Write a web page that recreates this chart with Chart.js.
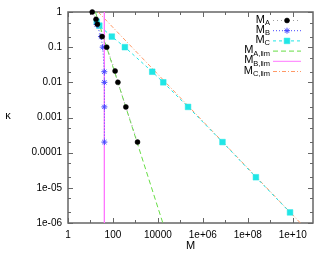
<!DOCTYPE html>
<html>
<head>
<meta charset="utf-8">
<script src="https://cdn.jsdelivr.net/npm/chart.js@4.4.1/dist/chart.umd.min.js"></script>
<style>
  body { margin: 0; background: #fff; }
  #wrap { width: 332px; height: 256px; position: relative; }
</style>
</head>
<body>
<div id="wrap"><canvas id="kappa"></canvas></div>
<script>
// values
const mA = [12, 17.7, 20.3, 33, 53, 125, 166, 376, 1240];
const kA = [1, 0.62, 0.45, 0.2, 0.1, 0.021, 0.01, 0.002, 0.0002];
const mB = [19, 29.4, 35, 41.3, 41.5, 41.6, 41.6];
const kB = [0.44, 0.2, 0.1, 0.02, 0.01, 0.002, 0.0002];
const mC = [19, 24.7, 89, 340, 5600, 17400, 220000, 7.5e6, 2.3e8, 7.6e9];
const kC = [0.53, 0.41, 0.2, 0.1, 0.02, 0.01, 0.002, 0.0002, 2e-5, 2e-6];
const mALim = [16.6, 16600];
const kALim = [1, 1e-6];
const mBLim = [41.6, 41.6];
const kBLim = [1, 1e-6];
const mCLim = [22, 2.2e10];
const kCLim = [1, 1e-6];

const xTicks = [1, 100, 1e4, 1e6, 1e8, 1e10];
const xLabels = ['1', '100', '10000', '1e+06', '1e+08', '1e+10'];
const yTicks = [1, 0.1, 0.01, 0.001, 0.0001, 1e-5, 1e-6];
const yLabels = ['1', '0.1', '0.01', '0.001', '0.0001', '1e-05', '1e-06'];
const legendSubs = ['A', 'B', 'C', 'A,lim', 'B,lim', 'C,lim'];

const FONT = '"Liberation Sans", Arial, sans-serif';
const pts = (xs, ys) => xs.map((x, i) => ({ x: x, y: ys[i] }));

const frame = {
  id: 'frame',
  beforeDatasetsDraw(chart) {
    const { ctx, chartArea: a, scales: { x, y } } = chart;
    ctx.save();
    ctx.strokeStyle = '#666';
    ctx.lineWidth = 1;
    ctx.beginPath();
    // y ticks at 1, 2, 5 of each decade, left and right
    for (let e = -6; e <= 0; e++) {
      [1, 2, 5].forEach((m) => {
        const v = m * Math.pow(10, e);
        if (v > 1) return;
        const py = Math.round(y.getPixelForValue(v)) + 0.5;
        const len = m === 1 ? 5 : 3;
        ctx.moveTo(a.left, py); ctx.lineTo(a.left + len, py);
        ctx.moveTo(a.right, py); ctx.lineTo(a.right - len, py);
      });
    }
    // x ticks at every decade, bottom and top
    for (let e = 0; e <= 10; e++) {
      const px = Math.round(x.getPixelForValue(Math.pow(10, e))) + 0.5;
      const len = e % 2 === 0 ? 5 : 3;
      ctx.moveTo(px, a.bottom); ctx.lineTo(px, a.bottom - len);
      ctx.moveTo(px, a.top); ctx.lineTo(px, a.top + len);
    }
    ctx.stroke();
    ctx.lineWidth = 1.5;
    ctx.strokeRect(a.left, a.top, a.right - a.left, a.bottom - a.top);

    ctx.fillStyle = '#000';
    ctx.font = '11px ' + FONT;
    ctx.textAlign = 'center';
    ctx.textBaseline = 'middle';
    ctx.fillText('κ', 8, 116);
    ctx.textBaseline = 'alphabetic';
    ctx.fillText('M', (a.left + a.right) / 2, 249);
    ctx.restore();
  }
};

const key = {
  id: 'key',
  afterDatasetsDraw(chart) {
    const ctx = chart.ctx;
    ctx.save();
    chart.data.datasets.forEach((ds, i) => {
      const y = 20 + i * 10.2;
      const right = 270;
      ctx.fillStyle = '#000';
      ctx.font = '7.5px ' + FONT;
      ctx.textAlign = 'right';
      ctx.textBaseline = 'alphabetic';
      ctx.fillText(legendSubs[i], right, y + 5);
      const sw = ctx.measureText(legendSubs[i]).width;
      ctx.font = '11px ' + FONT;
      ctx.fillText('M', right - sw, y + 2.5);

      ctx.strokeStyle = ds.borderColor;
      ctx.lineWidth = ds.borderWidth;
      ctx.setLineDash(ds.borderDash || []);
      ctx.beginPath();
      ctx.moveTo(273, y + 0.5);
      ctx.lineTo(301, y + 0.5);
      ctx.stroke();
      ctx.setLineDash([]);
      if (ds.pointRadius > 0) {
        ctx.fillStyle = ds.pointBackgroundColor;
        ctx.strokeStyle = ds.pointBorderColor;
        ctx.lineWidth = ds.pointBorderWidth;
        Chart.helpers.drawPoint(ctx, {
          pointStyle: ds.pointStyle, radius: ds.pointRadius,
          borderWidth: ds.pointBorderWidth, rotation: 0
        }, 287, y + 0.5);
      }
    });
    ctx.restore();
  }
};

const series = (data, color, dash, style, radius, fill, bw) => ({
  data: data,
  showLine: true,
  borderColor: color,
  borderWidth: 1,
  borderDash: dash,
  pointStyle: style,
  pointRadius: radius,
  pointBackgroundColor: fill,
  pointBorderColor: fill,
  pointBorderWidth: bw,
  clip: false
});

new Chart(document.getElementById('kappa'), {
  type: 'scatter',
  data: {
    datasets: [
      series(pts(mA, kA), '#a0a0a0', [1, 3], 'circle', 2.5, '#000', 0.5),
      series(pts(mB, kB), '#4848ff', [1, 2], 'star', 3, '#4848ff', 1),
      series(pts(mC, kC), '#20e6e6', [3, 3], 'rect', 4, '#20e6e6', 0.5),
      series(pts(mALim, kALim), '#66dd44', [5, 3], 'circle', 0, '#66dd44', 0),
      series(pts(mBLim, kBLim), '#ff77ff', [], 'circle', 0, '#ff77ff', 0),
      series(pts(mCLim, kCLim), '#ff9966', [4, 2, 1, 2], 'circle', 0, '#ff9966', 0)
    ]
  },
  options: {
    responsive: true,
    maintainAspectRatio: false,
    animation: false,
    layout: { padding: { top: 12, right: 19, left: 0, bottom: 0 } },
    plugins: { legend: { display: false }, tooltip: { enabled: false } },
    scales: {
      x: {
        type: 'logarithmic', min: 1, max: 8e10,
        grid: { display: false, drawTicks: false }, border: { display: false },
        afterBuildTicks: (s) => { s.ticks = xTicks.map((v) => ({ value: v })); },
        afterFit: (s) => { s.height = 33; },
        ticks: {
          autoSkip: false, maxRotation: 0, padding: 6, color: '#000',
          font: { family: FONT, size: 10 },
          callback: (v) => xLabels[xTicks.indexOf(v)]
        }
      },
      y: {
        type: 'logarithmic', min: 1e-6, max: 1,
        grid: { display: false, drawTicks: false }, border: { display: false },
        afterBuildTicks: (s) => { s.ticks = yTicks.map((v) => ({ value: v })); },
        afterFit: (s) => { s.width = 68; },
        ticks: {
          autoSkip: false, padding: 6, color: '#000',
          font: { family: FONT, size: 10 },
          callback: (v) => yLabels[yTicks.indexOf(v)]
        }
      }
    }
  },
  plugins: [frame, key]
});
</script>
</body>
</html>
